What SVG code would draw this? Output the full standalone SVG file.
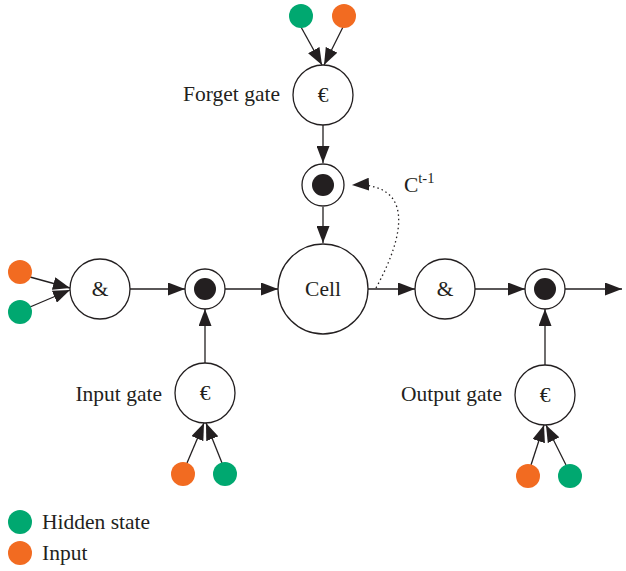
<svg xmlns="http://www.w3.org/2000/svg" width="626" height="571" viewBox="0 0 626 571">
<style>
.n{fill:#fff;stroke:#231f20;stroke-width:1.3}
.dot{fill:#231f20}
.g{fill:#00a870}
.o{fill:#f26b21}
.t{font-family:"Liberation Serif",serif;font-size:21.5px;fill:#231f20}
.c{stroke:#231f20;stroke-width:1.3;fill:none}
</style>
<defs>
<marker id="a" markerUnits="userSpaceOnUse" markerWidth="17" markerHeight="13" refX="17" refY="6.5" orient="auto">
<path d="M0,0 L17,6.5 L0,13 Z" fill="#231f20"/>
</marker>
</defs>
<g id="connectors">
<line class="c" x1="301" y1="27" x2="322" y2="65" marker-end="url(#a)"/>
<line class="c" x1="343" y1="27" x2="324" y2="65" marker-end="url(#a)"/>
<line class="c" x1="323" y1="125" x2="323" y2="163" marker-end="url(#a)"/>
<line class="c" x1="323" y1="207" x2="323" y2="243" marker-end="url(#a)"/>
<path class="c" d="M376 288 C405 235 415 182 352 185" stroke-dasharray="1.5,3" marker-end="url(#a)"/>
<line class="c" x1="30" y1="277" x2="70" y2="288" marker-end="url(#a)"/>
<line class="c" x1="30" y1="307" x2="70" y2="290" marker-end="url(#a)"/>
<line class="c" x1="130" y1="289" x2="185" y2="289" marker-end="url(#a)"/>
<line class="c" x1="225" y1="289" x2="278" y2="289" marker-end="url(#a)"/>
<line class="c" x1="205" y1="363" x2="205" y2="309" marker-end="url(#a)"/>
<line class="c" x1="187" y1="463" x2="204" y2="423" marker-end="url(#a)"/>
<line class="c" x1="222" y1="463" x2="206" y2="423" marker-end="url(#a)"/>
<line class="c" x1="368" y1="289" x2="415" y2="289" marker-end="url(#a)"/>
<line class="c" x1="475" y1="289" x2="525" y2="289" marker-end="url(#a)"/>
<line class="c" x1="565" y1="289" x2="622" y2="289" marker-end="url(#a)"/>
<line class="c" x1="545" y1="365" x2="545" y2="309" marker-end="url(#a)"/>
<line class="c" x1="531" y1="465" x2="544" y2="425" marker-end="url(#a)"/>
<line class="c" x1="566" y1="465" x2="546" y2="425" marker-end="url(#a)"/>
</g>
<g id="forget-gate">
<circle class="n" cx="323" cy="95" r="30"/>
<text class="t" x="323" y="102" text-anchor="middle">€</text>
<text class="t" x="280" y="101" text-anchor="end">Forget gate</text>
</g>
<g id="forget-h"><circle class="g" cx="301" cy="16" r="12"/></g>
<g id="forget-x"><circle class="o" cx="344" cy="16" r="12"/></g>
<g id="forget-mul">
<circle class="n" cx="323" cy="185" r="21"/>
<circle class="dot" cx="323" cy="185" r="11"/>
</g>
<text class="t" x="404" y="192">C<tspan font-size="14.5" dy="-9">t-1</tspan></text>
<g id="cell">
<circle class="n" cx="323" cy="289" r="45"/>
<text class="t" x="323" y="296" text-anchor="middle">Cell</text>
</g>
<g id="in-x"><circle class="o" cx="20" cy="272" r="12"/></g>
<g id="in-h"><circle class="g" cx="20" cy="312" r="12"/></g>
<g id="concat-in">
<circle class="n" cx="100" cy="289" r="30"/>
<text class="t" x="100" y="296" text-anchor="middle">&amp;</text>
</g>
<g id="input-mul">
<circle class="n" cx="205" cy="289" r="20"/>
<circle class="dot" cx="205" cy="289" r="11"/>
</g>
<g id="input-gate">
<circle class="n" cx="205" cy="393" r="30"/>
<text class="t" x="205" y="400" text-anchor="middle">€</text>
<text class="t" x="162" y="401" text-anchor="end">Input gate</text>
</g>
<g id="ig-x"><circle class="o" cx="183" cy="474" r="12"/></g>
<g id="ig-h"><circle class="g" cx="225" cy="474" r="12"/></g>
<g id="concat-out">
<circle class="n" cx="445" cy="289" r="30"/>
<text class="t" x="445" y="296" text-anchor="middle">&amp;</text>
</g>
<g id="output-mul">
<circle class="n" cx="545" cy="289" r="20"/>
<circle class="dot" cx="545" cy="289" r="11"/>
</g>
<g id="output-gate">
<circle class="n" cx="545" cy="395" r="30"/>
<text class="t" x="545" y="402" text-anchor="middle">€</text>
<text class="t" x="502" y="401" text-anchor="end">Output gate</text>
</g>
<g id="og-x"><circle class="o" cx="528" cy="476" r="12"/></g>
<g id="og-h"><circle class="g" cx="570" cy="476" r="12"/></g>
<g id="legend">
<circle class="g" cx="20" cy="522" r="12"/>
<text class="t" x="42" y="529">Hidden state</text>
<circle class="o" cx="20" cy="553" r="12"/>
<text class="t" x="42" y="560">Input</text>
</g>
</svg>
